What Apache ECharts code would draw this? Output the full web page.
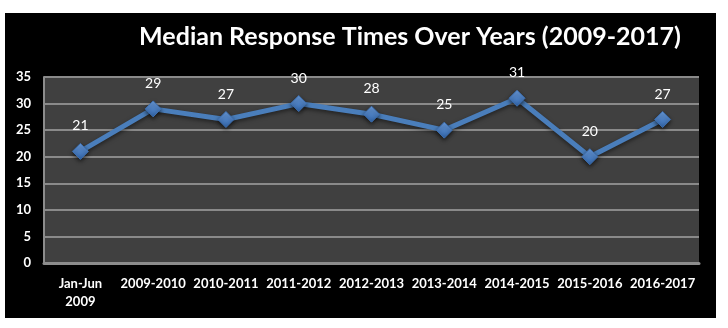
<!DOCTYPE html>
<html>
<head>
<meta charset="utf-8">
<script src="https://cdn.jsdelivr.net/npm/echarts@6/dist/echarts.min.js"></script>
<style>
  html, body { margin: 0; padding: 0; background: #ffffff; width: 728px; height: 328px; overflow: hidden; }
  #chart { position: absolute; left: 5px; top: 13px; width: 711px; height: 305px; }
</style>
</head>
<body>
<div id="chart"></div>
<script>
// Reporting periods and median response times
const periods = ['Jan-Jun\n2009', '2009-2010', '2010-2011', '2011-2012', '2012-2013', '2013-2014', '2014-2015', '2015-2016', '2016-2017'];
const medianTimes = [21, 29, 27, 30, 28, 25, 31, 20, 27];
const yTicks = { min: 0, max: 35, step: 5 };

const chart = echarts.init(document.getElementById('chart'), null, { renderer: 'canvas' });

chart.setOption({
  backgroundColor: '#000000',
  animation: false,
  title: {
    text: 'Median Response Times Over Years (2009-2017)',
    left: 400,
    top: 6,
    textAlign: 'center',
    textStyle: { color: '#ffffff', fontFamily: 'Lato', fontWeight: 'bold', fontSize: 25 }
  },
  grid: {
    left: 39, top: 64, right: 17, bottom: 55,
    show: true,
    backgroundColor: '#404040',
    borderWidth: 0
  },
  xAxis: {
    type: 'category',
    data: periods,
    boundaryGap: true,
    axisLine: { show: true, lineStyle: { color: '#8c8c8c', width: 3 } },
    axisTick: { show: false },
    axisLabel: {
      color: '#ffffff', fontFamily: 'Lato', fontSize: 13, fontWeight: 'bold',
      margin: 12, lineHeight: 18, interval: 0
    }
  },
  yAxis: {
    type: 'value',
    min: yTicks.min, max: yTicks.max, interval: yTicks.step,
    axisLine: { show: true, lineStyle: { color: '#8c8c8c', width: 2 } },
    axisTick: { show: false },
    splitLine: { show: true, lineStyle: { color: '#8a8a8a', width: 2 } },
    axisLabel: { color: '#ffffff', fontFamily: 'Lato', fontSize: 13, fontWeight: 'bold', margin: 13 }
  },
  series: [{
    type: 'line',
    data: medianTimes,
    symbol: 'diamond',
    symbolSize: 16,
    lineStyle: { color: '#4a7ebb', width: 5, shadowColor: 'rgba(0,0,0,0.5)', shadowBlur: 4, shadowOffsetY: 2 },
    itemStyle: {
      color: new echarts.graphic.LinearGradient(0, 0, 0, 1, [
        { offset: 0, color: '#6d9fe0' },
        { offset: 1, color: '#2f63a8' }
      ]),
      borderColor: '#3d6fb0', borderWidth: 1,
      shadowColor: 'rgba(0,0,0,0.6)', shadowBlur: 4, shadowOffsetY: 2
    },
    label: {
      show: true, position: 'top', distance: 10,
      color: '#ffffff', fontFamily: 'Lato', fontSize: 14
    }
  }]
});
</script>
</body>
</html>
